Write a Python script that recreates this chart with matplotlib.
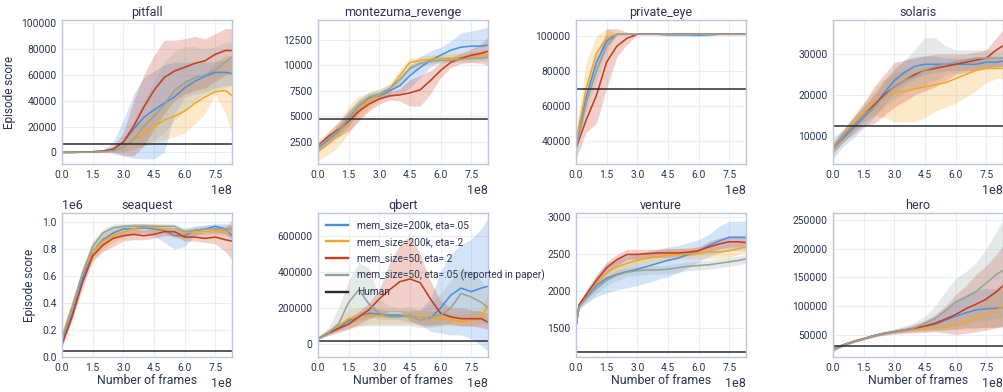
import numpy as np
import matplotlib
matplotlib.use("Agg")
import matplotlib.pyplot as plt

plt.rcParams['font.family'] = ['Roboto', 'DejaVu Sans']

TXT = '#2a3553'
C_BLUE = '#4a90e2'
C_ORANGE = '#f5a623'
C_RED = '#c93c20'
C_GRAY = '#95a39d'
C_HUMAN = '#2b2b2b'

labels = ['mem_size=200k, eta=.05', 'mem_size=200k, eta=.2', 'mem_size=50, eta=.2',
          'mem_size=50, eta=.05 (reported in paper)', 'Human']

frames = [0, 0.5e8, 1.0e8, 1.5e8, 2.0e8, 2.5e8, 3.0e8, 3.5e8, 4.0e8, 4.5e8, 5.0e8,
          5.5e8, 6.0e8, 6.5e8, 7.0e8, 7.5e8, 8.0e8, 8.32e8]
venture_frames = [0, 0.15e8, 0.5e8, 1.0e8, 1.5e8, 2.0e8, 2.5e8, 3.0e8, 3.5e8, 4.0e8, 4.5e8,
                  5.0e8, 5.5e8, 6.0e8, 6.5e8, 7.0e8, 7.5e8, 8.0e8, 8.32e8]

games = ['pitfall', 'montezuma_revenge', 'private_eye', 'solaris',
         'seaquest', 'qbert', 'venture', 'hero']
human = [6464, 4753, 69571, 12327, 42054, 13455, 1188, 30826]

# ---------------- pitfall ----------------
pitfall_blue = [0, 0, 200, 500, 1000, 2000, 8000, 18000, 27000, 33000, 38000, 43000, 50000, 55000, 59000, 62000, 62000, 61000]
pitfall_blue_lo = [0, 0, 0, 0, 0, -1000, -3000, -4500, -5000, -5000, 0, 30000, 43000, 45000, 47000, 50000, 52000, 52000]
pitfall_blue_hi = [0, 0, 400, 1000, 2000, 8000, 25000, 45000, 58000, 63000, 68000, 70000, 70000, 70000, 70000, 70000, 72000, 72000]
pitfall_orange = [0, 0, 100, 200, 500, 1000, 4000, 10000, 15000, 20000, 25000, 28000, 32000, 38000, 43000, 47000, 48000, 44000]
pitfall_orange_lo = [0, 0, 0, 0, 0, 0, 1000, 3000, 5000, 8000, 10000, 12000, 15000, 22000, 30000, 45000, 30000, 15000]
pitfall_orange_hi = [0, 0, 200, 500, 1000, 2000, 8000, 18000, 25000, 32000, 40000, 48000, 55000, 58000, 60000, 70000, 75000, 75000]
pitfall_red = [0, 0, 200, 500, 1000, 2500, 8000, 20000, 35000, 48000, 58000, 63000, 66000, 69000, 71000, 76000, 79000, 79000]
pitfall_red_lo = [0, 0, 0, 0, 200, 500, -2000, -3000, 5000, 18000, 30000, 40000, 45000, 48000, 50000, 55000, 60000, 62000]
pitfall_red_hi = [0, 0, 400, 1000, 2000, 5000, 15000, 40000, 60000, 75000, 87000, 87000, 88000, 90000, 88000, 92000, 96000, 96000]
pitfall_gray = [0, 0, 100, 300, 600, 1200, 4000, 10000, 20000, 28000, 37000, 48000, 54000, 58000, 60000, 64000, 70000, 74000]
pitfall_gray_lo = [0, 0, 0, 0, 0, 0, 0, 2000, 5000, 10000, 15000, 25000, 32000, 40000, 45000, 48000, 50000, 52000]
pitfall_gray_hi = [0, 0, 300, 700, 1500, 3000, 10000, 25000, 40000, 55000, 70000, 78000, 82000, 82000, 80000, 82000, 85000, 86000]

# ---------------- montezuma_revenge ----------------
montezuma_blue = [1900, 2700, 3500, 4800, 6000, 6800, 7000, 7500, 8000, 9000, 9800, 10500, 11000, 11500, 11800, 11900, 11900, 12000]
montezuma_blue_lo = [1600, 2200, 2900, 4000, 5300, 6300, 6700, 7000, 7200, 7800, 8800, 9800, 10400, 10700, 10800, 10800, 10800, 10900]
montezuma_blue_hi = [2200, 3200, 4100, 5600, 6700, 7300, 7400, 8000, 8800, 10000, 10900, 11400, 11800, 12400, 13200, 13400, 13600, 13800]
montezuma_orange = [1500, 2300, 3200, 4500, 5800, 6600, 7100, 7700, 9000, 10300, 10500, 10600, 10700, 10700, 10800, 10900, 11000, 11100]
montezuma_orange_lo = [700, 1200, 2000, 3300, 4800, 5800, 6500, 7200, 8400, 9700, 10100, 10200, 10300, 10400, 10500, 10600, 10600, 10700]
montezuma_orange_hi = [2200, 3300, 4500, 6000, 7000, 7300, 7600, 8200, 9600, 10700, 10900, 11000, 11100, 11200, 11200, 11300, 11400, 11500]
montezuma_red = [2100, 3000, 3700, 4500, 5500, 6200, 6700, 7000, 7100, 7300, 7600, 8500, 9500, 10300, 10700, 11000, 11200, 11400]
montezuma_red_lo = [1700, 2500, 3000, 3500, 4500, 5500, 6200, 6600, 6500, 6000, 6000, 7200, 8800, 9800, 10200, 10300, 10200, 10000]
montezuma_red_hi = [2500, 3500, 4400, 5500, 6500, 7000, 7200, 7400, 7700, 8600, 9000, 9500, 10300, 10800, 11200, 11600, 12200, 12800]
montezuma_gray = [2000, 2800, 3600, 4700, 6000, 6900, 7200, 7700, 8600, 9700, 10200, 10400, 10500, 10500, 10600, 10700, 10700, 10800]
montezuma_gray_lo = [1700, 2400, 3100, 4100, 5400, 6400, 6800, 7300, 8200, 9300, 9900, 10100, 10200, 10300, 10300, 10300, 10400, 10400]
montezuma_gray_hi = [2300, 3200, 4100, 5300, 6600, 7400, 7700, 8100, 9000, 10100, 10500, 10700, 10800, 10800, 10900, 11000, 11100, 11200]

# ---------------- private_eye ----------------
private_eye_blue = [38000, 65000, 85000, 97000, 100800, 100800, 100800, 100800, 100800, 100500, 100500, 100500, 100300, 100500, 100800, 100800, 100800, 100800]
private_eye_blue_lo = [35000, 60000, 80000, 94000, 100500, 100800, 100800, 100800, 100500, 99800, 99800, 99800, 99600, 99800, 100600, 100800, 100800, 100800]
private_eye_blue_hi = [41000, 70000, 90000, 100000, 101000, 101000, 101000, 101000, 101000, 101000, 101000, 101000, 101000, 101000, 101000, 101000, 101000, 101000]
private_eye_orange = [40000, 70000, 90000, 99000, 100800, 100800, 100800, 100800, 100800, 100800, 100800, 100800, 100800, 100800, 100800, 100800, 100800, 100800]
private_eye_orange_lo = [36000, 62000, 84000, 96000, 100600, 100600, 100600, 100600, 100600, 100600, 100600, 100600, 100600, 100600, 100600, 100600, 100600, 100600]
private_eye_orange_hi = [45000, 85000, 100000, 104000, 101000, 101000, 101000, 101000, 101000, 101000, 101000, 101000, 101000, 101000, 101000, 101000, 101000, 101000]
private_eye_red = [36000, 52000, 66000, 85000, 94000, 98500, 100800, 100800, 100800, 100800, 100800, 100800, 100800, 100800, 100800, 100800, 100800, 100800]
private_eye_red_lo = [30000, 45000, 50000, 70000, 88000, 95000, 100500, 100500, 100500, 100500, 100500, 100500, 100500, 100500, 100500, 100500, 100500, 100500]
private_eye_red_hi = [42000, 62000, 84000, 104000, 104000, 102000, 101000, 101000, 101000, 101000, 101000, 101000, 101000, 101000, 101000, 101000, 101000, 101000]
private_eye_gray = [36000, 62000, 80000, 94000, 100800, 100800, 100800, 100800, 100800, 100800, 100800, 100800, 100800, 100800, 100800, 100800, 100800, 100800]
private_eye_gray_lo = [33000, 57000, 74000, 90000, 100600, 100600, 100600, 100600, 100600, 100600, 100600, 100600, 100600, 100600, 100600, 100600, 100600, 100600]
private_eye_gray_hi = [40000, 67000, 86000, 98000, 101000, 101000, 101000, 101000, 101000, 101000, 101000, 101000, 101000, 101000, 101000, 101000, 101000, 101000]

# ---------------- solaris ----------------
solaris_blue = [7000, 9500, 12000, 14500, 17000, 20500, 23500, 25500, 27000, 27500, 27500, 27500, 27500, 27500, 27500, 28000, 28000, 28300]
solaris_blue_lo = [4500, 7500, 9500, 12000, 14500, 17500, 20500, 22500, 24000, 25000, 25500, 26000, 26000, 26000, 26000, 26500, 26500, 27000]
solaris_blue_hi = [9500, 11500, 14500, 17000, 20000, 23500, 26500, 28500, 29500, 29500, 29500, 29000, 29000, 29000, 29000, 29500, 29500, 29500]
solaris_orange = [7000, 10000, 13000, 15500, 18000, 19500, 20500, 21000, 21500, 22000, 22500, 23000, 24000, 25000, 26000, 26500, 26500, 26500]
solaris_orange_lo = [5500, 8500, 11000, 13500, 15000, 14500, 13500, 13500, 13500, 14500, 16000, 17000, 18000, 19500, 21000, 23000, 24000, 24000]
solaris_orange_hi = [8500, 11500, 15000, 18000, 21000, 24000, 25500, 26000, 26500, 27000, 27000, 27500, 28000, 28000, 28500, 29000, 28500, 28500]
solaris_red = [7000, 10000, 12500, 15000, 17500, 20000, 22000, 23500, 25000, 26000, 26500, 27000, 27500, 28000, 28500, 29000, 31000, 32000]
solaris_red_lo = [6000, 8500, 10500, 12500, 13000, 15000, 17000, 18500, 20000, 21000, 22000, 23500, 25000, 25500, 26000, 26500, 27000, 27000]
solaris_red_hi = [8000, 11500, 14500, 18000, 22000, 25000, 28000, 28500, 29000, 29500, 30000, 30000, 30000, 30000, 30500, 31000, 34000, 36000]
solaris_gray = [7000, 10000, 12500, 15000, 17000, 19500, 22000, 23500, 24500, 26000, 27000, 27500, 28000, 28500, 29000, 29000, 29000, 29000]
solaris_gray_lo = [5500, 8500, 11000, 13500, 15000, 17000, 19000, 20500, 21500, 22500, 23500, 25000, 25500, 26000, 26500, 27000, 27000, 27000]
solaris_gray_hi = [8500, 11500, 14500, 17000, 20000, 23000, 26000, 28500, 31000, 34000, 34000, 32000, 31000, 31000, 31000, 31000, 31000, 31000]

# ---------------- seaquest ----------------
seaquest_blue = [120000, 320000, 580000, 780000, 870000, 920000, 950000, 950000, 960000, 950000, 940000, 900000, 900000, 940000, 950000, 970000, 950000, 900000]
seaquest_blue_lo = [100000, 290000, 550000, 740000, 830000, 880000, 910000, 910000, 920000, 900000, 850000, 800000, 820000, 900000, 920000, 930000, 910000, 870000]
seaquest_blue_hi = [140000, 350000, 610000, 820000, 910000, 960000, 980000, 990000, 990000, 980000, 970000, 960000, 950000, 970000, 980000, 990000, 990000, 980000]
seaquest_orange = [150000, 380000, 620000, 780000, 860000, 900000, 930000, 950000, 970000, 960000, 950000, 920000, 920000, 930000, 930000, 940000, 930000, 930000]
seaquest_orange_lo = [120000, 340000, 570000, 720000, 800000, 850000, 890000, 910000, 930000, 920000, 920000, 880000, 880000, 900000, 900000, 910000, 900000, 890000]
seaquest_orange_hi = [180000, 420000, 670000, 850000, 930000, 960000, 980000, 990000, 990000, 990000, 980000, 960000, 950000, 960000, 960000, 970000, 970000, 970000]
seaquest_red = [90000, 300000, 550000, 750000, 830000, 880000, 900000, 910000, 900000, 910000, 930000, 930000, 890000, 890000, 880000, 890000, 870000, 860000]
seaquest_red_lo = [70000, 270000, 510000, 710000, 780000, 820000, 860000, 870000, 870000, 880000, 900000, 900000, 860000, 860000, 850000, 840000, 780000, 720000]
seaquest_red_hi = [110000, 330000, 590000, 790000, 870000, 920000, 940000, 950000, 940000, 950000, 960000, 960000, 930000, 930000, 920000, 940000, 960000, 1020000]
seaquest_gray = [130000, 360000, 620000, 820000, 920000, 960000, 970000, 970000, 970000, 970000, 970000, 970000, 930000, 940000, 950000, 950000, 950000, 950000]
seaquest_gray_lo = [110000, 330000, 580000, 780000, 880000, 930000, 950000, 950000, 950000, 950000, 950000, 950000, 900000, 910000, 920000, 920000, 920000, 920000]
seaquest_gray_hi = [150000, 390000, 660000, 860000, 950000, 990000, 990000, 990000, 990000, 990000, 990000, 990000, 960000, 970000, 980000, 980000, 980000, 980000]

# ---------------- qbert ----------------
qbert_blue = [30000, 60000, 90000, 130000, 150000, 170000, 165000, 160000, 160000, 150000, 150000, 140000, 200000, 270000, 310000, 290000, 310000, 320000]
qbert_blue_lo = [25000, 50000, 75000, 110000, 130000, 145000, 140000, 135000, 135000, 120000, 110000, 70000, 60000, 50000, 50000, 30000, -10000, -40000]
qbert_blue_hi = [35000, 70000, 105000, 150000, 175000, 195000, 190000, 185000, 185000, 180000, 190000, 250000, 400000, 500000, 550000, 580000, 640000, 700000]
qbert_orange = [30000, 65000, 100000, 140000, 150000, 160000, 155000, 150000, 150000, 150000, 150000, 145000, 140000, 135000, 125000, 130000, 150000, 210000]
qbert_orange_lo = [25000, 50000, 70000, 90000, 100000, 110000, 110000, 110000, 110000, 110000, 110000, 110000, 100000, 100000, 100000, 100000, 110000, 140000]
qbert_orange_hi = [35000, 80000, 130000, 190000, 200000, 210000, 200000, 190000, 190000, 190000, 190000, 180000, 180000, 170000, 160000, 170000, 200000, 280000]
qbert_red = [30000, 60000, 85000, 110000, 150000, 190000, 250000, 300000, 345000, 360000, 340000, 250000, 170000, 150000, 140000, 140000, 140000, 120000]
qbert_red_lo = [25000, 50000, 70000, 85000, 110000, 140000, 160000, 180000, 180000, 130000, 100000, 100000, 110000, 110000, 100000, 100000, 90000, 80000]
qbert_red_hi = [35000, 70000, 100000, 140000, 180000, 230000, 300000, 450000, 550000, 600000, 500000, 350000, 240000, 200000, 200000, 190000, 180000, 170000]
qbert_gray = [30000, 60000, 110000, 230000, 300000, 220000, 170000, 150000, 150000, 160000, 130000, 150000, 160000, 200000, 280000, 260000, 230000, 200000]
qbert_gray_lo = [25000, 45000, 60000, 80000, 100000, 100000, 100000, 100000, 100000, 100000, 90000, 90000, 100000, 120000, 150000, 140000, 120000, 100000]
qbert_gray_hi = [35000, 90000, 200000, 350000, 450000, 420000, 250000, 210000, 200000, 210000, 180000, 220000, 280000, 350000, 420000, 400000, 350000, 300000]

# ---------------- venture (uses venture_frames) ----------------
venture_blue = [1530, 1800, 1930, 2080, 2180, 2230, 2270, 2300, 2340, 2380, 2420, 2450, 2500, 2550, 2620, 2680, 2730, 2730, 2730]
venture_blue_lo = [1500, 1760, 1840, 1930, 1980, 2020, 2050, 2080, 2120, 2160, 2200, 2250, 2320, 2400, 2470, 2520, 2550, 2550, 2550]
venture_blue_hi = [1560, 1840, 2020, 2230, 2380, 2440, 2490, 2510, 2540, 2570, 2600, 2620, 2660, 2700, 2770, 2880, 2950, 2950, 2950]
venture_orange = [1530, 1810, 1950, 2120, 2250, 2330, 2380, 2420, 2450, 2470, 2490, 2500, 2510, 2520, 2530, 2530, 2550, 2580, 2600]
venture_orange_lo = [1510, 1780, 1900, 2050, 2170, 2240, 2300, 2340, 2370, 2400, 2420, 2430, 2440, 2440, 2440, 2440, 2460, 2500, 2520]
venture_orange_hi = [1550, 1840, 2000, 2190, 2330, 2420, 2460, 2500, 2530, 2550, 2570, 2580, 2590, 2600, 2610, 2620, 2640, 2660, 2680]
venture_red = [1530, 1820, 1960, 2150, 2320, 2430, 2500, 2500, 2510, 2520, 2520, 2520, 2530, 2550, 2600, 2640, 2670, 2670, 2660]
venture_red_lo = [1510, 1790, 1920, 2090, 2240, 2350, 2430, 2440, 2450, 2460, 2460, 2470, 2480, 2500, 2530, 2570, 2600, 2600, 2590]
venture_red_hi = [1550, 1850, 2000, 2210, 2400, 2500, 2570, 2570, 2570, 2570, 2580, 2580, 2580, 2600, 2680, 2720, 2750, 2750, 2740]
venture_gray = [1530, 1790, 1900, 2040, 2150, 2220, 2260, 2280, 2290, 2290, 2300, 2320, 2340, 2350, 2360, 2380, 2400, 2420, 2440]
venture_gray_lo = [1510, 1760, 1850, 1970, 2080, 2150, 2200, 2220, 2230, 2230, 2240, 2260, 2280, 2290, 2300, 2320, 2340, 2360, 2380]
venture_gray_hi = [1550, 1820, 1950, 2110, 2220, 2290, 2320, 2340, 2350, 2350, 2360, 2380, 2400, 2410, 2420, 2440, 2460, 2480, 2500]

# ---------------- hero ----------------
hero_blue = [25000, 32000, 38000, 43000, 48000, 52000, 55000, 58000, 61000, 64000, 68000, 75000, 82000, 88000, 93000, 95000, 96000, 97000]
hero_blue_lo = [20000, 29000, 36000, 41000, 46000, 50000, 53000, 55000, 57000, 58000, 58000, 58000, 60000, 62000, 62000, 63000, 63000, 63000]
hero_blue_hi = [30000, 35000, 40000, 45000, 50000, 54000, 57000, 61000, 66000, 72000, 82000, 95000, 108000, 120000, 128000, 130000, 130000, 130000]
hero_orange = [25000, 32000, 38000, 43000, 48000, 52000, 55000, 58000, 60000, 62000, 63000, 65000, 68000, 72000, 78000, 85000, 92000, 100000]
hero_orange_lo = [22000, 30000, 36000, 41000, 46000, 50000, 52000, 54000, 55000, 56000, 57000, 58000, 59000, 60000, 61000, 62000, 63000, 65000]
hero_orange_hi = [28000, 34000, 40000, 45000, 50000, 54000, 58000, 61000, 64000, 67000, 70000, 74000, 80000, 88000, 100000, 115000, 130000, 145000]
hero_red = [25000, 32000, 38000, 43000, 48000, 52000, 55000, 58000, 61000, 65000, 70000, 77000, 85000, 95000, 103000, 112000, 125000, 135000]
hero_red_lo = [22000, 30000, 36000, 41000, 46000, 49000, 51000, 52000, 53000, 54000, 55000, 53000, 50000, 52000, 55000, 58000, 62000, 65000]
hero_red_hi = [28000, 34000, 40000, 45000, 51000, 55000, 59000, 63000, 68000, 75000, 85000, 100000, 120000, 135000, 155000, 170000, 190000, 205000]
hero_gray = [25000, 32000, 38000, 43000, 48000, 52000, 55000, 58000, 62000, 70000, 78000, 92000, 107000, 115000, 125000, 140000, 155000, 162000]
hero_gray_lo = [22000, 30000, 36000, 41000, 46000, 50000, 53000, 55000, 57000, 58000, 60000, 62000, 65000, 68000, 72000, 75000, 78000, 80000]
hero_gray_hi = [28000, 34000, 40000, 45000, 51000, 56000, 60000, 65000, 72000, 82000, 100000, 125000, 148000, 160000, 175000, 200000, 230000, 250000]

series = {
    'pitfall': [(pitfall_blue, pitfall_blue_lo, pitfall_blue_hi), (pitfall_orange, pitfall_orange_lo, pitfall_orange_hi),
                (pitfall_red, pitfall_red_lo, pitfall_red_hi), (pitfall_gray, pitfall_gray_lo, pitfall_gray_hi)],
    'montezuma_revenge': [(montezuma_blue, montezuma_blue_lo, montezuma_blue_hi), (montezuma_orange, montezuma_orange_lo, montezuma_orange_hi),
                          (montezuma_red, montezuma_red_lo, montezuma_red_hi), (montezuma_gray, montezuma_gray_lo, montezuma_gray_hi)],
    'private_eye': [(private_eye_blue, private_eye_blue_lo, private_eye_blue_hi), (private_eye_orange, private_eye_orange_lo, private_eye_orange_hi),
                    (private_eye_red, private_eye_red_lo, private_eye_red_hi), (private_eye_gray, private_eye_gray_lo, private_eye_gray_hi)],
    'solaris': [(solaris_blue, solaris_blue_lo, solaris_blue_hi), (solaris_orange, solaris_orange_lo, solaris_orange_hi),
                (solaris_red, solaris_red_lo, solaris_red_hi), (solaris_gray, solaris_gray_lo, solaris_gray_hi)],
    'seaquest': [(seaquest_blue, seaquest_blue_lo, seaquest_blue_hi), (seaquest_orange, seaquest_orange_lo, seaquest_orange_hi),
                 (seaquest_red, seaquest_red_lo, seaquest_red_hi), (seaquest_gray, seaquest_gray_lo, seaquest_gray_hi)],
    'qbert': [(qbert_blue, qbert_blue_lo, qbert_blue_hi), (qbert_orange, qbert_orange_lo, qbert_orange_hi),
              (qbert_red, qbert_red_lo, qbert_red_hi), (qbert_gray, qbert_gray_lo, qbert_gray_hi)],
    'venture': [(venture_blue, venture_blue_lo, venture_blue_hi), (venture_orange, venture_orange_lo, venture_orange_hi),
                (venture_red, venture_red_lo, venture_red_hi), (venture_gray, venture_gray_lo, venture_gray_hi)],
    'hero': [(hero_blue, hero_blue_lo, hero_blue_hi), (hero_orange, hero_orange_lo, hero_orange_hi),
             (hero_red, hero_red_lo, hero_red_hi), (hero_gray, hero_gray_lo, hero_gray_hi)],
}

ylims = {
    'pitfall': (-9000, 102600), 'montezuma_revenge': (300, 14470), 'private_eye': (26900, 108900),
    'solaris': (3170, 38300), 'seaquest': (-2000, 1.069e6), 'qbert': (-72500, 726000),
    'venture': (1115, 3059), 'hero': (11000, 262000),
}
yticks = {
    'pitfall': [0, 20000, 40000, 60000, 80000, 100000],
    'montezuma_revenge': [2500, 5000, 7500, 10000, 12500],
    'private_eye': [40000, 60000, 80000, 100000],
    'solaris': [10000, 20000, 30000],
    'seaquest': [0, 0.2e6, 0.4e6, 0.6e6, 0.8e6, 1.0e6],
    'qbert': [0, 200000, 400000, 600000],
    'venture': [1500, 2000, 2500, 3000],
    'hero': [50000, 100000, 150000, 200000, 250000],
}
xticks = [0, 1.5e8, 3.0e8, 4.5e8, 6.0e8, 7.5e8]
colors = [C_BLUE, C_ORANGE, C_RED, C_GRAY]

W, H = 1004, 392
fig = plt.figure(figsize=(W / 100, H / 100), dpi=100)
lefts = [62, 318, 576, 833]
tops = [20, 213]
aw, ah = 170, 144

for i, g in enumerate(games):
    r, c = divmod(i, 4)
    ax = fig.add_axes([lefts[c] / W, 1 - (tops[r] + ah) / H, aw / W, ah / H])
    fr = venture_frames if g == 'venture' else frames
    for (m, lo, hi), col, lab in zip(series[g], colors, labels):
        ax.fill_between(fr, lo, hi, color=col, alpha=0.24, linewidth=0)
        ax.plot(fr, m, color=col, lw=1.15, label=lab)
    ax.axhline(human[i], color=C_HUMAN, lw=1.1, label='Human')
    ax.set_xlim(0, 8.32e8)
    ax.set_ylim(*ylims[g])
    ax.set_xticks(xticks)
    ax.set_yticks(yticks[g])
    if g != 'seaquest':
        ax.ticklabel_format(axis='y', style='plain', useOffset=False)
    ax.grid(True, color='#e9eff3', lw=0.8)
    ax.set_axisbelow(True)
    for s in ax.spines.values():
        s.set_color('#bcc6d6')
        s.set_linewidth(1.0)
    ax.tick_params(length=0, labelsize=7.4, colors=TXT, pad=4)
    ax.xaxis.get_offset_text().set_fontsize(9)
    ax.xaxis.get_offset_text().set_color(TXT)
    ax.yaxis.get_offset_text().set_fontsize(9)
    ax.yaxis.get_offset_text().set_color(TXT)
    ax.set_title(g, fontsize=9, color=TXT, pad=3)
    if c == 0:
        ax.set_ylabel('Episode score', fontsize=8.5, color=TXT)
    if r == 1:
        ax.set_xlabel('Number of frames', fontsize=8.8, color=TXT, labelpad=1)
    if g == 'qbert':
        leg = ax.legend(loc='upper left', frameon=False, fontsize=7.3, handlelength=2.2,
                        handletextpad=0.9, borderaxespad=0.35, labelspacing=0.62,
                        bbox_to_anchor=(0.0, 1.0))
        for t in leg.get_texts():
            t.set_color(TXT)
        for l in leg.get_lines():
            l.set_linewidth(1.7)

fig.savefig('out.png', dpi=100)
